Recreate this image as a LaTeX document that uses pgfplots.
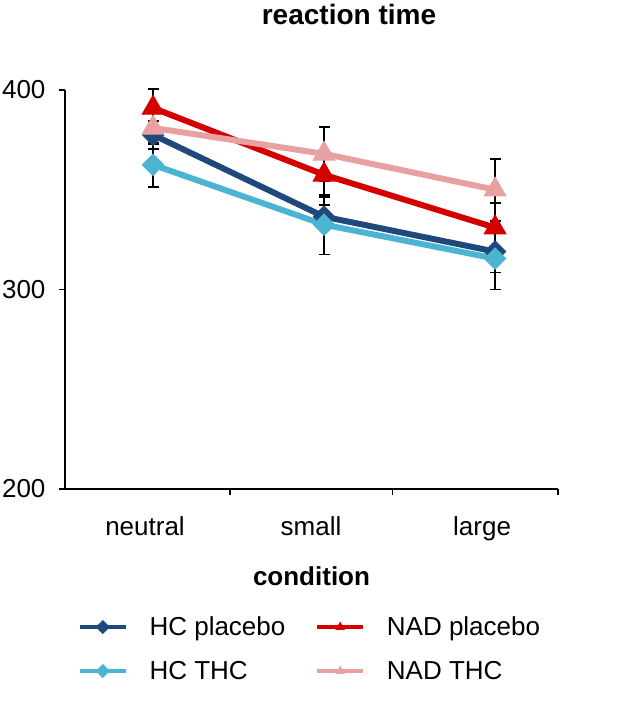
\documentclass[border=0pt]{standalone}
\usepackage{fontspec}
\setmainfont{Liberation Sans}
\usepackage{pgfplots}
\pgfplotsset{compat=1.18}
\definecolor{hcp}{RGB}{31,73,125}
\definecolor{hct}{RGB}{75,180,210}
\definecolor{nadp}{RGB}{212,0,0}
\definecolor{nadt}{RGB}{232,160,160}
\begin{document}
\begin{tikzpicture}
\begin{axis}[
  scale only axis, width=493pt, height=399pt,
  xmin=-0.515, xmax=2.368, ymin=200, ymax=400,
  axis x line*=bottom, axis y line*=left,
  axis line style={line width=2.2pt, black, -},
  xtick={0.45,1.40,2.368}, xticklabels={},
  extra x ticks={-0.047,0.924,1.924},
  extra x tick labels={neutral,small,large},
  extra x tick style={major tick length=0pt, tick label style={anchor=base, yshift=-46pt}},
  ytick={200,300,400},
  tick style={line width=1.8pt, black},
  major tick length=6pt,
  tick align=outside,
  /pgf/number format/assume math mode=true,
  tick label style={font=\fontsize{26}{30}\selectfont},
  yticklabel style={anchor=east, xshift=-10pt},
  every axis title/.style={at={(0.576,1)}, anchor=base, yshift=65pt, font=\bfseries\fontsize{28}{32}\selectfont},
  title={reaction time},
  every axis x label/.style={at={(0.5,0)}, anchor=base, yshift=-96pt, font=\bfseries\fontsize{26}{30}\selectfont},
  xlabel={condition},
  clip=false,
  legend columns=2,
  legend cell align=left,
  legend style={at={(0.02,-0.31)}, anchor=north west, draw=none, fill=none,
    font=\fontsize{26}{30}\selectfont, row sep=20pt,
    /tikz/every even column/.append style={column sep=28pt},
    /tikz/every odd column/.append style={column sep=20pt}},
  legend image code/.code={\draw[#1, line width=3.5pt, mark size=4.5pt, mark repeat=2, mark phase=2] plot coordinates {(0pt,0pt) (23pt,0pt) (46pt,0pt)};},
  error bars/error bar style={line width=1.8pt, black, solid, draw=black},
  error bars/error mark=-,
  error bars/error mark options={rotate=90, line width=1.8pt, black, draw=black, mark size=5.5pt},
]
% error bars (behind the lines)
\addplot[draw=none, forget plot, error bars/.cd, y dir=both, y explicit] coordinates {(0,377.5) +- (0,7) (1,336.5) +- (0,6) (2,319) +- (0,10.5)};
\addplot[draw=none, forget plot, error bars/.cd, y dir=both, y explicit] coordinates {(0,362.5) +- (0,11) (1,332.5) +- (0,15) (2,315.5) +- (0,15.5)};
\addplot[draw=none, forget plot, error bars/.cd, y dir=both, y explicit] coordinates {(0,391) +- (0,9.5) (1,357.5) +- (0,11) (2,331) +- (0,12.5)};
\addplot[draw=none, forget plot, error bars/.cd, y dir=both, y explicit] coordinates {(0,381) +- (0,8) (1,368) +- (0,13.5) (2,350) +- (0,15.5)};
% series
\addplot[hcp, line width=6pt, mark=square*, mark size=7.5pt, mark options={rotate=45, line width=1pt, fill=hcp, draw=hcp}] coordinates {(0,377.5) (1,336.5) (2,319)};
\addlegendentry{HC placebo}
\addplot[nadp, line width=6pt, mark=triangle*, mark size=12.5pt, mark options={line width=1pt, fill=nadp, draw=nadp}] coordinates {(0,391) (1,357.5) (2,331)};
\addlegendentry{NAD placebo}
\addplot[hct, line width=6pt, mark=square*, mark size=7.5pt, mark options={rotate=45, line width=1pt, fill=hct, draw=hct}] coordinates {(0,362.5) (1,332.5) (2,315.5)};
\addlegendentry{HC THC}
\addplot[nadt, line width=6pt, mark=triangle*, mark size=12.5pt, mark options={line width=1pt, fill=nadt, draw=nadt}] coordinates {(0,381) (1,368) (2,350)};
\addlegendentry{NAD THC}
\end{axis}
\pgfresetboundingbox
\path (current axis.south west) ++(-65pt,-214pt) rectangle ++(641pt,703pt);
\end{tikzpicture}
\end{document}
